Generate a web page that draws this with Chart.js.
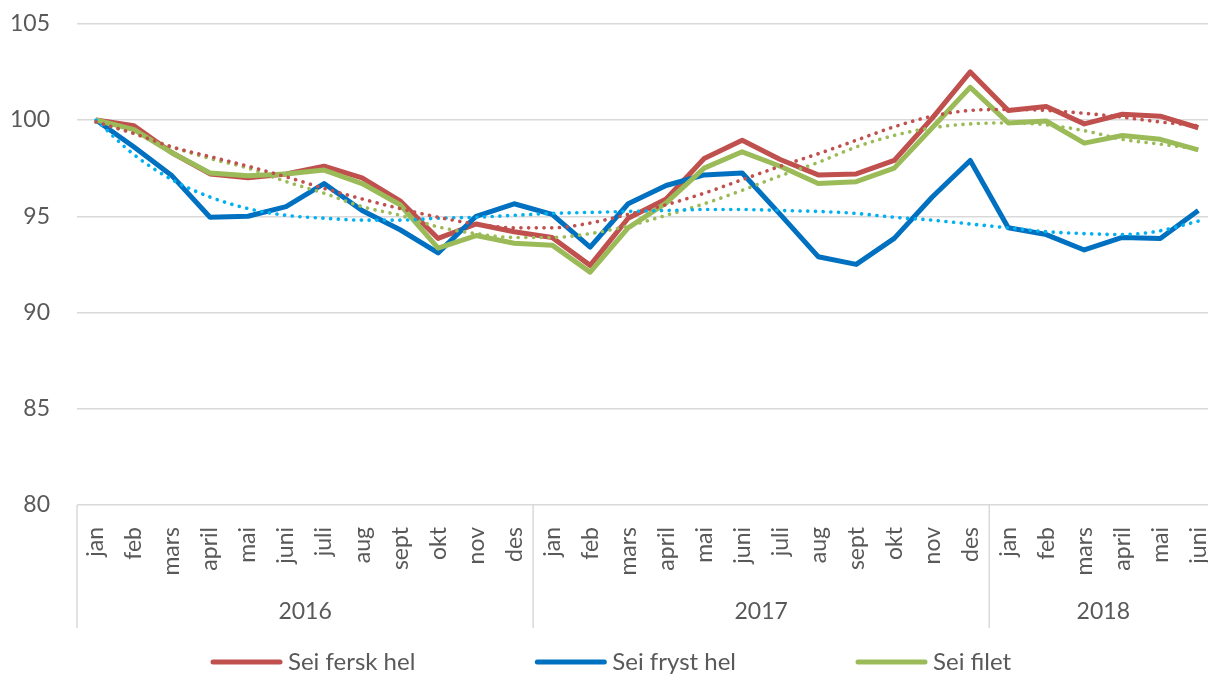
<!DOCTYPE html>
<html>
<head>
<meta charset="utf-8">
<script src="https://cdn.jsdelivr.net/npm/chart.js@4/dist/chart.umd.min.js"></script>
<style>
  html, body { margin: 0; padding: 0; background: #fff; overflow: hidden; }
  canvas { display: block; margin-top: -17px; }
</style>
</head>
<body>
<canvas id="c" width="1240" height="692"></canvas>
<script>
// Months, jan 2016 - juni 2018
const months = [
  'jan','feb','mars','april','mai','juni','juli','aug','sept','okt','nov','des',
  'jan','feb','mars','april','mai','juni','juli','aug','sept','okt','nov','des',
  'jan','feb','mars','april','mai','juni'
];
const years = ['2016', '2017', '2018'];
const monthsPerYear = [12, 12, 6];

// index, jan 2016 = 100
const seiFersk = [100, 99.7, 98.3, 97.2, 97.0, 97.2, 97.6, 97.0, 95.8, 93.85, 94.6, 94.2,
                  93.9, 92.45, 94.9, 95.9, 98.0, 98.95, 97.95, 97.15, 97.2, 97.9, 100.1, 102.5,
                  100.5, 100.7, 99.8, 100.3, 100.2, 99.6];
const seiFryst = [100, 98.6, 97.1, 94.95, 95.0, 95.5, 96.7, 95.3, 94.3, 93.1, 95.0, 95.65,
                  95.1, 93.4, 95.65, 96.6, 97.15, 97.25, 95.1, 92.9, 92.5, 93.85, 96.0, 97.9,
                  94.4, 94.05, 93.25, 93.9, 93.85, 95.3];
const seiFilet = [100, 99.5, 98.3, 97.25, 97.1, 97.2, 97.4, 96.7, 95.6, 93.35, 94.0, 93.6,
                  93.5, 92.1, 94.4, 95.7, 97.5, 98.35, 97.6, 96.7, 96.8, 97.5, 99.6, 101.7,
                  99.85, 99.95, 98.8, 99.2, 99.0, 98.45];

// trendlines
const trendFersk = [99.9, 99.3, 98.6, 98.1, 97.6, 97.05, 96.45, 95.9, 95.4, 94.95, 94.6, 94.4,
                    94.4, 94.65, 95.1, 95.6, 96.2, 96.9, 97.6, 98.25, 98.95, 99.65, 100.2, 100.5,
                    100.55, 100.5, 100.35, 100.15, 99.9, 99.7];
const trendFryst = [100, 98.2, 96.9, 96.0, 95.4, 95.05, 94.9, 94.8, 94.8, 94.9, 94.95, 95.05,
                    95.15, 95.2, 95.25, 95.3, 95.35, 95.35, 95.3, 95.25, 95.15, 94.95, 94.8, 94.6,
                    94.4, 94.2, 94.1, 94.05, 94.25, 94.75];
const trendFilet = [99.9, 99.3, 98.6, 98.0, 97.5, 96.8, 96.2, 95.5, 95.05, 94.45, 94.1, 93.9,
                    93.9, 94.1, 94.5, 95.05, 95.65, 96.35, 97.1, 97.8, 98.6, 99.2, 99.6, 99.8,
                    99.85, 99.75, 99.45, 99.0, 98.75, 98.5];

const FONT = 'Lato';
const TXT = '#595959';

const series = [
  { label: 'Sei fersk hel', data: seiFersk, color: '#C0504D', trend: trendFersk, trendColor: '#C0504D' },
  { label: 'Sei fryst hel', data: seiFryst, color: '#0070C0', trend: trendFryst, trendColor: '#00B0F0' },
  { label: 'Sei filet', data: seiFilet, color: '#9BBB59', trend: trendFilet, trendColor: '#9BBB59' }
];

const datasets = [];
series.forEach((s, i) => {
  datasets.push({
    label: s.label, data: s.data, borderColor: s.color, backgroundColor: s.color,
    borderWidth: 5, pointRadius: 0, tension: 0, borderJoinStyle: 'round', order: 3 - i
  });
});
series.forEach(s => {
  datasets.push({
    label: s.label + ' trend', data: s.trend, borderColor: s.trendColor,
    borderWidth: 3.6, borderDash: [0.1, 7.6], borderCapStyle: 'round',
    pointRadius: 0, cubicInterpolationMode: 'monotone', order: 0
  });
});

// year groups under the month labels + the legend
const groupAxis = {
  id: 'groupAxis',
  afterDraw(chart) {
    const ctx = chart.ctx;
    const xs = chart.scales.x;
    const bottom = chart.chartArea.bottom;
    const w = xs.getPixelForValue(1) - xs.getPixelForValue(0);
    ctx.save();
    ctx.strokeStyle = '#D9D9D9';
    ctx.lineWidth = 1.5;
    ctx.fillStyle = TXT;
    ctx.font = '23px ' + FONT;
    ctx.textAlign = 'center';
    ctx.textBaseline = 'middle';
    let start = 0;
    monthsPerYear.forEach((n, i) => {
      const left = xs.getPixelForValue(start) - w / 2;
      const right = xs.getPixelForValue(start + n - 1) + w / 2;
      ctx.beginPath();
      ctx.moveTo(left, bottom);
      ctx.lineTo(left, bottom + 123);
      ctx.stroke();
      ctx.fillText(years[i], (left + right) / 2, bottom + 107);
      start += n;
    });

    // legend
    const ly = bottom + 157;
    let x = 211;
    ctx.textAlign = 'left';
    ctx.font = '24px ' + FONT;
    series.forEach(s => {
      ctx.strokeStyle = s.color;
      ctx.lineWidth = 5;
      ctx.lineCap = 'round';
      ctx.beginPath();
      ctx.moveTo(x + 2, ly);
      ctx.lineTo(x + 69, ly);
      ctx.stroke();
      ctx.fillText(s.label, x + 77, ly);
      x += 77 + ctx.measureText(s.label).width + 120;
    });
    ctx.restore();
  }
};

new Chart(document.getElementById('c'), {
  type: 'line',
  data: { labels: months, datasets: datasets },
  options: {
    responsive: false,
    animation: false,
    layout: { padding: { top: 8, right: 5, left: 0, bottom: 0 } },
    plugins: { legend: { display: false }, tooltip: { enabled: false } },
    scales: {
      x: {
        offset: true,
        grid: { display: false },
        border: { display: false },
        ticks: {
          autoSkip: false, minRotation: 90, maxRotation: 90, padding: 14,
          color: TXT, font: { family: FONT, size: 23 }
        },
        afterFit(s) { s.height = 170; }
      },
      y: {
        min: 80, max: 105,
        grid: { color: '#D9D9D9', lineWidth: 1.5, drawTicks: false },
        border: { display: false },
        ticks: { stepSize: 5, padding: 27, color: TXT, font: { family: FONT, size: 23 } },
        afterFit(s) { s.width = 77; }
      }
    }
  },
  plugins: [groupAxis]
});
</script>
</body>
</html>
